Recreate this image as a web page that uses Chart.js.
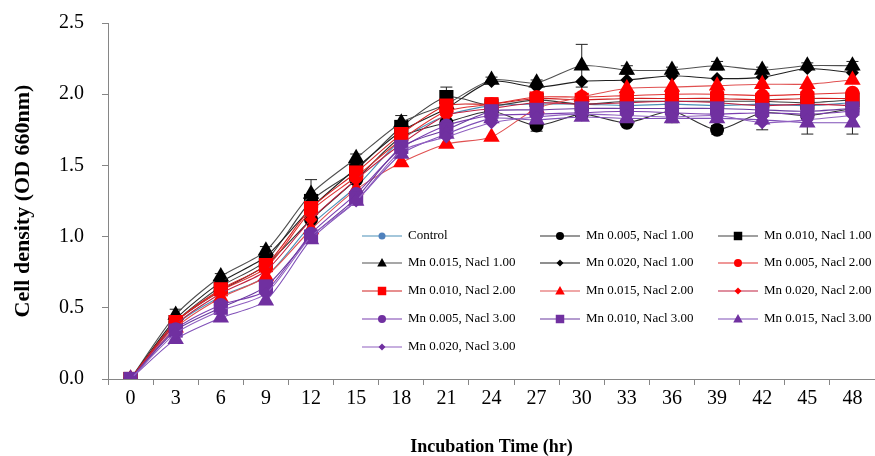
<!DOCTYPE html>
<html>
<head>
<meta charset="utf-8">
<script src="https://cdn.jsdelivr.net/npm/chart.js@4.4.1/dist/chart.umd.min.js"></script>
<style>
  html, body { margin: 0; padding: 0; background: #fff; overflow: hidden; }
  #wrap { width: 885px; height: 463px; margin-top: -7px; position: relative; }
</style>
</head>
<body>
<div id="wrap"><canvas id="growthChart"></canvas></div>
<script>
const hours = ['0', '3', '6', '9', '12', '15', '18', '21', '24', '27', '30', '33', '36', '39', '42', '45', '48'];

const seriesLabels = [
    'Control',
    'Mn 0.005, Nacl 1.00', 'Mn 0.010, Nacl 1.00', 'Mn 0.015, Nacl 1.00', 'Mn 0.020, Nacl 1.00',
    'Mn 0.005, Nacl 2.00', 'Mn 0.010, Nacl 2.00', 'Mn 0.015, Nacl 2.00', 'Mn 0.020, Nacl 2.00',
    'Mn 0.005, Nacl 3.00', 'Mn 0.010, Nacl 3.00', 'Mn 0.015, Nacl 3.00', 'Mn 0.020, Nacl 3.00'
];

// OD 660nm readings
const control  = [0, 0.38, 0.58, 0.72, 1.08, 1.35, 1.68, 1.85, 1.92, 1.93, 1.93, 1.92, 1.93, 1.92, 1.93, 1.92, 1.94];
const mn005n1  = [0, 0.40, 0.62, 0.80, 1.12, 1.40, 1.70, 1.80, 1.88, 1.78, 1.86, 1.80, 1.88, 1.75, 1.87, 1.85, 1.90];
const mn010n1  = [0, 0.40, 0.65, 0.83, 1.25, 1.47, 1.77, 1.98, 1.92, 1.96, 1.93, 1.95, 1.95, 1.95, 1.95, 1.94, 1.96];
const mn015n1  = [0, 0.45, 0.72, 0.90, 1.30, 1.55, 1.80, 1.93, 2.10, 2.08, 2.20, 2.17, 2.17, 2.20, 2.17, 2.20, 2.20];
const mn020n1  = [0, 0.42, 0.68, 0.86, 1.20, 1.48, 1.74, 1.90, 2.09, 2.05, 2.09, 2.10, 2.13, 2.11, 2.12, 2.18, 2.15];
const mn005n2  = [0, 0.40, 0.62, 0.78, 1.18, 1.42, 1.68, 1.88, 1.93, 1.98, 1.98, 1.99, 2.00, 2.00, 1.99, 2.00, 2.01];
const mn010n2  = [0, 0.40, 0.63, 0.80, 1.20, 1.45, 1.72, 1.92, 1.93, 1.97, 1.96, 1.97, 1.97, 1.97, 1.96, 1.97, 1.97];
const mn015n2  = [0, 0.36, 0.57, 0.72, 1.05, 1.33, 1.52, 1.65, 1.70, 1.90, 1.98, 2.04, 2.05, 2.06, 2.07, 2.07, 2.10];
const mn020n2  = [0, 0.38, 0.60, 0.76, 1.12, 1.40, 1.65, 1.85, 1.90, 1.94, 1.93, 1.94, 1.95, 1.94, 1.92, 1.93, 1.92];
const mn005n3  = [0, 0.35, 0.52, 0.62, 1.02, 1.30, 1.62, 1.78, 1.85, 1.86, 1.87, 1.88, 1.87, 1.86, 1.87, 1.86, 1.88];
const mn010n3  = [0, 0.34, 0.50, 0.65, 1.00, 1.27, 1.63, 1.75, 1.88, 1.89, 1.90, 1.90, 1.90, 1.90, 1.89, 1.88, 1.90];
const mn015n3  = [0, 0.28, 0.43, 0.55, 0.98, 1.25, 1.58, 1.72, 1.83, 1.82, 1.84, 1.83, 1.83, 1.83, 1.82, 1.80, 1.80];
const mn020n3  = [0, 0.32, 0.48, 0.60, 1.00, 1.25, 1.60, 1.70, 1.80, 1.84, 1.86, 1.85, 1.84, 1.85, 1.80, 1.82, 1.85];

// standard deviations (only the ones visible as caps)
const err005n1 = [0, 0, 0, 0, 0, 0, 0, 0, 0, 0.04, 0.02, 0.02, 0.02, 0.03, 0.03, 0.02, 0.02];
const err010n1 = [0, 0, 0, 0, 0, 0, 0, 0.07, 0, 0, 0, 0, 0, 0, 0, 0, 0];
const err015n1 = [0, 0.04, 0.02, 0.03, 0.10, 0.03, 0.05, 0.02, 0.02, 0.02, 0.15, 0.03, 0.02, 0.03, 0.02, 0.02, 0.03];
const err015n3 = [0, 0, 0, 0, 0, 0, 0, 0, 0, 0, 0, 0.03, 0.03, 0.05, 0.07, 0.08, 0.08];

const allSeries = [control, mn005n1, mn010n1, mn015n1, mn020n1, mn005n2, mn010n2, mn015n2, mn020n2, mn005n3, mn010n3, mn015n3, mn020n3];
const allErrors = [null, err005n1, err010n1, err015n1, null, null, null, null, null, null, null, err015n3, null];

const markerColors = ['#4f81bd', '#000000', '#000000', '#000000', '#000000', '#ff0000', '#ff0000', '#ff0000', '#ff0000', '#7030a0', '#7030a0', '#7030a0', '#7030a0'];
const lineColors = ['#4a90b8', '#303030', '#404040', '#505050', '#202020', '#e03030', '#d02020', '#e05050', '#c02040', '#7b3fb0', '#6a3aa0', '#8050b8', '#9060c0'];
const pointStyles = ['circle', 'circle', 'rect', 'triangle', 'rectRot', 'circle', 'rect', 'triangle', 'rectRot', 'circle', 'rect', 'triangle', 'rectRot'];
const pointSizes = [4, 7, 10, 9.5, 6.5, 7, 10, 9.5, 6.5, 7, 10, 9.5, 6.5];
const legendSizes = [3.5, 4, 6, 5, 3.5, 4, 6, 5, 3.5, 4, 6, 5, 3.5];

const serif = "'Liberation Serif', 'Times New Roman', serif";

const errorBarPlugin = {
    id: 'errorBars',
    beforeDatasetsDraw(chart) {
        const ctx = chart.ctx;
        const yScale = chart.scales.y;
        ctx.save();
        ctx.strokeStyle = '#222';
        ctx.lineWidth = 1;
        chart.data.datasets.forEach((ds, i) => {
            if (!ds.errors) return;
            const meta = chart.getDatasetMeta(i);
            meta.data.forEach((pt, j) => {
                const e = ds.errors[j];
                if (!e) return;
                const yTop = yScale.getPixelForValue(ds.data[j] + e);
                const yBot = yScale.getPixelForValue(ds.data[j] - e);
                ctx.beginPath();
                ctx.moveTo(pt.x, yTop); ctx.lineTo(pt.x, yBot);
                ctx.moveTo(pt.x - 6, yTop); ctx.lineTo(pt.x + 6, yTop);
                ctx.moveTo(pt.x - 6, yBot); ctx.lineTo(pt.x + 6, yBot);
                ctx.stroke();
            });
        });
        ctx.restore();
    }
};

function drawMarker(ctx, style, x, y, r) {
    if (style === 'circle') {
        ctx.arc(x, y, r, 0, Math.PI * 2);
    } else if (style === 'rect') {
        const s = r * Math.SQRT1_2;
        ctx.rect(x - s, y - s, 2 * s, 2 * s);
    } else if (style === 'triangle') {
        ctx.moveTo(x, y - r);
        ctx.lineTo(x + r * 0.95, y + r * 0.7);
        ctx.lineTo(x - r * 0.95, y + r * 0.7);
        ctx.closePath();
    } else {
        ctx.moveTo(x, y - r); ctx.lineTo(x + r, y); ctx.lineTo(x, y + r); ctx.lineTo(x - r, y);
        ctx.closePath();
    }
}

// legend laid out as a 3-column grid inside the plot, like the original
const gridLegendPlugin = {
    id: 'gridLegend',
    afterDraw(chart) {
        const ctx = chart.ctx;
        const colX = [362, 540, 718];
        const rowY = [243, 270, 298, 326, 354];
        ctx.save();
        ctx.font = '13px ' + serif;
        ctx.textBaseline = 'middle';
        ctx.textAlign = 'left';
        chart.data.datasets.forEach((ds, i) => {
            const x = colX[i % 3];
            const y = rowY[Math.floor(i / 3)];
            ctx.strokeStyle = ds.borderColor;
            ctx.lineWidth = 1.2;
            ctx.beginPath();
            ctx.moveTo(x, y); ctx.lineTo(x + 40, y);
            ctx.stroke();
            ctx.fillStyle = ds.pointBackgroundColor;
            ctx.beginPath();
            drawMarker(ctx, ds.pointStyle, x + 20, y, legendSizes[i]);
            ctx.fill();
            ctx.fillStyle = '#000';
            ctx.fillText(ds.label, x + 46, y);
        });
        ctx.restore();
    }
};

const datasets = allSeries.map((values, i) => ({
    label: seriesLabels[i],
    data: values,
    errors: allErrors[i],
    borderColor: lineColors[i],
    backgroundColor: markerColors[i],
    pointBackgroundColor: markerColors[i],
    pointBorderColor: markerColors[i],
    pointStyle: pointStyles[i],
    pointRadius: pointSizes[i],
    pointBorderWidth: 0,
    borderWidth: 1.1,
    tension: 0.25,
    order: allSeries.length - i
}));

new Chart(document.querySelector('#growthChart').getContext('2d'), {
    type: 'line',
    data: { labels: hours, datasets: datasets },
    plugins: [errorBarPlugin, gridLegendPlugin],
    options: {
        responsive: true,
        maintainAspectRatio: false,
        animation: false,
        layout: { padding: { top: 14, right: 0, bottom: 0, left: 0 } },
        plugins: {
            legend: { display: false },
            tooltip: { enabled: false }
        },
        scales: {
            x: {
                type: 'category',
                offset: true,
                afterFit(scale) { scale.height = 77; },
                grid: {
                    offset: true,
                    drawOnChartArea: false,
                    drawTicks: true,
                    tickLength: 6,
                    color: '#868686'
                },
                border: { color: '#868686', width: 1 },
                ticks: {
                    color: '#000',
                    padding: 2,
                    maxRotation: 0,
                    autoSkip: false,
                    font: { family: serif, size: 20 }
                },
                title: {
                    display: true,
                    text: 'Incubation Time (hr)',
                    color: '#000',
                    padding: { top: 0, bottom: -2 },
                    font: { family: serif, size: 18, weight: 'bold' }
                }
            },
            y: {
                min: 0,
                max: 2.5,
                afterFit(scale) { scale.width = 108; },
                grid: {
                    drawOnChartArea: false,
                    drawTicks: true,
                    tickLength: 6,
                    color: '#868686'
                },
                border: { color: '#868686', width: 1 },
                ticks: {
                    stepSize: 0.5,
                    color: '#000',
                    padding: 18,
                    font: { family: serif, size: 20 },
                    callback: v => v.toFixed(1)
                },
                title: {
                    display: true,
                    text: 'Cell density (OD 660nm)',
                    color: '#000',
                    padding: { top: 10, bottom: 0 },
                    font: { family: serif, size: 22, weight: 'bold' }
                }
            }
        }
    }
});
</script>
</body>
</html>
